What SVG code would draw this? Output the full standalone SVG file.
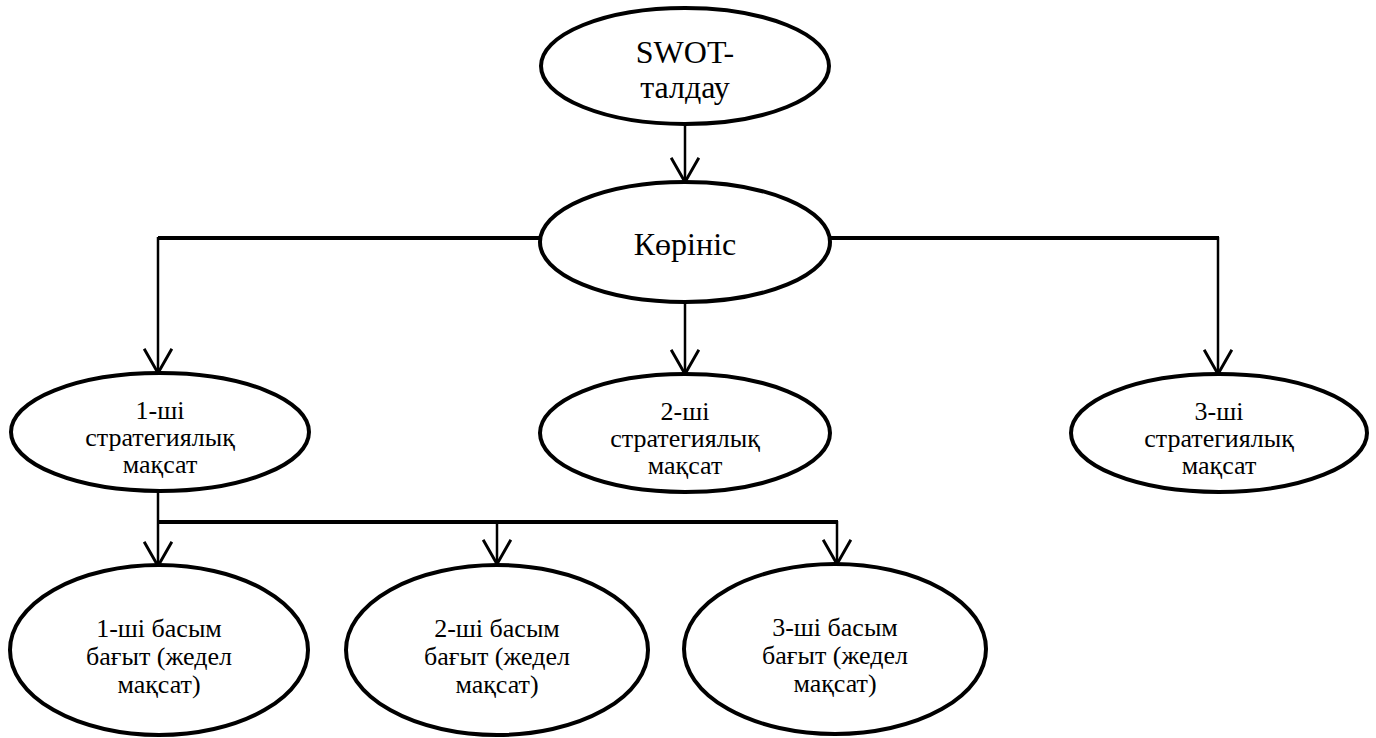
<svg xmlns="http://www.w3.org/2000/svg" width="1376" height="738" viewBox="0 0 1376 738">
<style>
.n{fill:#fff;stroke:#000;stroke-width:4}
.c{fill:none;stroke:#000;stroke-width:2.5}
.h{fill:none;stroke:#000;stroke-width:4}
</style>
<defs>
<marker id="a" markerUnits="userSpaceOnUse" markerWidth="30" markerHeight="30" refX="22" refY="13" orient="auto" viewBox="0 0 26 26">
<path d="M1,1 L22,13 L1,25" fill="none" stroke="#000" stroke-width="2.5"/>
</marker>
</defs>
<g id="connectors">
<line class="c" x1="685" y1="125" x2="685" y2="182" marker-end="url(#a)"/>
<line class="h" x1="158" y1="238" x2="540" y2="238"/>
<line class="h" x1="830" y1="238" x2="1219" y2="238"/>
<line class="c" x1="158" y1="237" x2="158" y2="373" marker-end="url(#a)"/>
<line class="c" x1="1218" y1="237" x2="1218" y2="374" marker-end="url(#a)"/>
<line class="c" x1="685" y1="302" x2="685" y2="374" marker-end="url(#a)"/>
<line class="c" x1="158" y1="490" x2="158" y2="566" marker-end="url(#a)"/>
<line class="h" x1="158" y1="522" x2="838" y2="522"/>
<line class="c" x1="497" y1="521" x2="497" y2="564" marker-end="url(#a)"/>
<line class="c" x1="837" y1="521" x2="837" y2="564" marker-end="url(#a)"/>
</g>
<g font-family="Liberation Serif" text-anchor="middle" fill="#000">
<g id="swot" font-size="32">
<ellipse class="n" cx="685" cy="66" rx="144" ry="58"/>
<text x="685" y="63">SWOT-</text>
<text x="685" y="98">талдау</text>
</g>
<g id="korinis" font-size="32">
<ellipse class="n" cx="685" cy="242" rx="145" ry="60"/>
<text x="685" y="255">Көрініс</text>
</g>
<g id="sm1" font-size="26">
<ellipse class="n" cx="160" cy="432" rx="149" ry="59"/>
<text x="160" y="419">1-ші</text>
<text x="160" y="446">стратегиялық</text>
<text x="160" y="473">мақсат</text>
</g>
<g id="sm2" font-size="26">
<ellipse class="n" cx="685" cy="433" rx="145" ry="59"/>
<text x="685" y="420">2-ші</text>
<text x="685" y="447">стратегиялық</text>
<text x="685" y="474">мақсат</text>
</g>
<g id="sm3" font-size="26">
<ellipse class="n" cx="1219" cy="433" rx="148" ry="59"/>
<text x="1219" y="420">3-ші</text>
<text x="1219" y="447">стратегиялық</text>
<text x="1219" y="474">мақсат</text>
</g>
<g id="bb1" font-size="26">
<ellipse class="n" cx="159" cy="650" rx="149" ry="85"/>
<text x="159" y="637">1-ші басым</text>
<text x="159" y="665">бағыт (жедел</text>
<text x="159" y="693">мақсат)</text>
</g>
<g id="bb2" font-size="26">
<ellipse class="n" cx="497" cy="650" rx="151" ry="85"/>
<text x="497" y="637">2-ші басым</text>
<text x="497" y="665">бағыт (жедел</text>
<text x="497" y="693">мақсат)</text>
</g>
<g id="bb3" font-size="26">
<ellipse class="n" cx="835" cy="649" rx="151" ry="85"/>
<text x="835" y="636">3-ші басым</text>
<text x="835" y="664">бағыт (жедел</text>
<text x="835" y="692">мақсат)</text>
</g>
</g>
</svg>
